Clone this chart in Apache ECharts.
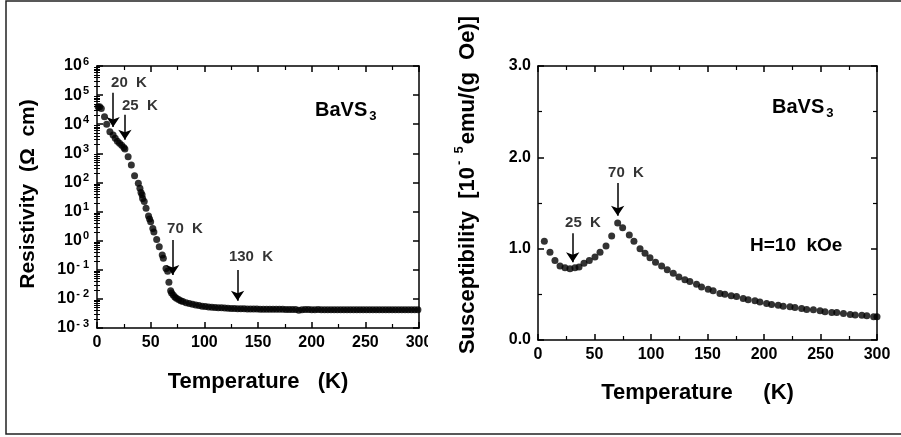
<!DOCTYPE html>
<html>
<head>
<meta charset="utf-8">
<script src="https://cdn.jsdelivr.net/npm/echarts@6/dist/echarts.min.js"></script>
<style>
    html, body { margin: 0; padding: 0; background: #fff; }
    #chart { width: 901px; height: 437px; }
</style>
</head>
<body>
<div id="chart"></div>
<script>
    // resistivity panel (left)
    var resT = [1, 2.5, 4, 7, 9, 12, 15, 17, 19, 21,
        23, 25, 26, 29, 32, 35, 38.5, 40, 41, 42,
        42.5, 44, 45.7, 48, 49, 50, 52, 53, 55.6, 58,
        60.8, 61.8, 64.3, 65.8, 67, 68.6, 69.5, 71, 72.5, 74,
        76, 78, 80, 83, 86, 89, 92, 95, 98, 101,
        104, 107, 110, 113, 116, 119, 122, 125, 128, 131,
        134, 137, 140, 143, 146, 149, 152, 155, 158, 161,
        164, 167, 170, 173, 176, 179, 182, 185, 188, 191,
        194, 197, 200, 203, 206, 209, 212, 215, 218, 221,
        224, 227, 230, 233, 236, 239, 242, 245, 248, 251,
        254, 257, 260, 263, 266, 269, 272, 275, 278, 281,
        284, 287, 290, 293, 296, 299];
    var resRho = [4.0e4, 4.0e4, 3.5e4, 1.8e4, 1.0e4, 5.5e3, 4.3e3, 3.3e3, 2.6e3, 2.2e3,
        1.9e3, 1.6e3, 1.4e3, 760, 400, 170, 93, 63, 45, 38,
        28, 22, 13, 7.1, 5.6, 4.5, 2.6, 2.0, 1.1, 0.62,
        0.32, 0.25, 0.11, 0.089, 0.037, 0.019, 0.016, 0.0135, 0.0117, 0.0105,
        0.0095, 0.0087, 0.0081, 0.0074, 0.0069, 0.0065, 0.0062, 0.0059, 0.0056, 0.0055,
        0.0053, 0.0052, 0.0051, 0.0050, 0.0050, 0.0049, 0.0048, 0.0047, 0.0047, 0.0046,
        0.0046, 0.0046, 0.0045, 0.0045, 0.0045, 0.0045, 0.0044, 0.0044, 0.0044, 0.0044,
        0.0044, 0.0044, 0.0044, 0.0044, 0.0043, 0.0043, 0.0043, 0.0043, 0.0041, 0.0042,
        0.0043, 0.0043, 0.0042, 0.0042, 0.0043, 0.0042, 0.0042, 0.0042, 0.0042, 0.0042,
        0.0042, 0.0042, 0.0042, 0.0042, 0.0042, 0.0042, 0.0042, 0.0042, 0.0042, 0.0042,
        0.0042, 0.0042, 0.0042, 0.0042, 0.0042, 0.0042, 0.0042, 0.0042, 0.0042, 0.0042,
        0.0042, 0.0042, 0.0042, 0.0042, 0.0042, 0.0042];

    // susceptibility panel (right), units of 1e-5 emu/(g Oe)
    var chiT = [5.6, 10.6, 15, 19.5, 23.9, 28.3, 32.7, 36.3, 40.7, 45.4,
        50.4, 54.9, 60.2, 65.2, 70.5, 74.9, 80.8, 84.9, 90.3, 94.7,
        99.1, 104, 109.4, 114.4, 119.7, 124.7, 130, 134.4, 140.3, 144.7,
        150.6, 155, 161, 165.4, 171, 175.7, 181.6, 186, 192, 196.4,
        202.3, 206.7, 212.6, 217, 223, 227.4, 233.3, 237.8, 243.7, 249.6,
        254, 260, 264.4, 270.3, 276.3, 280.7, 286.6, 291, 297, 300];
    var chi = [1.08, 0.96, 0.87, 0.81, 0.79, 0.78, 0.79, 0.80, 0.84, 0.87,
        0.91, 0.96, 1.03, 1.14, 1.28, 1.23, 1.15, 1.08, 1.00, 0.95,
        0.90, 0.85, 0.81, 0.77, 0.73, 0.69, 0.66, 0.64, 0.61, 0.58,
        0.555, 0.54, 0.51, 0.50, 0.485, 0.475, 0.455, 0.44, 0.43, 0.415,
        0.40, 0.39, 0.38, 0.37, 0.365, 0.355, 0.345, 0.335, 0.33, 0.32,
        0.31, 0.30, 0.30, 0.29, 0.28, 0.275, 0.27, 0.265, 0.255, 0.255];

    var tempTicks = [0, 50, 100, 150, 200, 250, 300];
    var resExps = [-3, -2, -1, 0, 1, 2, 3, 4, 5, 6];
    var chiTicks = ['0.0', '1.0', '2.0', '3.0'];

    // annotations: [T, value, text] and arrows: [T, from, to]
    var resNotes = [[29.8, 2.6e5, '20  K'], [40, 4.3e4, '25  K'], [82, 2.5, '70  K'], [143.5, 0.275, '130  K']];
    var resArrows = [[15, 1.2e5, 8e3], [26, 2.1e4, 2.9e3], [70.5, 1.05, 0.066], [131, 0.098, 0.0087]];
    var chiNotes = [[77.9, 1.83, '70  K'], [39.8, 1.28, '25  K']];
    var chiArrows = [[70.5, 1.72, 1.36], [30.7, 1.17, 0.85]];

    var FONT = 'Liberation Sans';
    var lineStyle = { color: '#000', width: 1.5 };

    var resData = resT.map(function (t, i) { return [t, resRho[i]]; });
    var chiData = chiT.map(function (t, i) { return [t, chi[i]]; });

    // minor log ticks 2..9 per decade, in log10 space
    var minorLog = [];
    for (var e = -3; e < 6; e++) {
        for (var m = 2; m <= 9; m++) minorLog.push(e + Math.log10(m));
    }

    function tempAxis(grid, pos, name, gap, pad) {
        return {
            type: 'value', gridIndex: grid, position: pos, min: 0, max: 300, interval: 50,
            name: name, nameLocation: 'middle', nameGap: gap,
            nameTextStyle: { fontFamily: FONT, fontWeight: 'bold', fontSize: 22, color: '#000', padding: pad || 0 },
            axisLine: { show: true, onZero: false, lineStyle: lineStyle },
            axisTick: { show: true, inside: true, length: 6, lineStyle: lineStyle },
            minorTick: { show: true, splitNumber: 2, length: 4, lineStyle: { color: '#000', width: 1.2 } },
            splitLine: { show: false },
            axisLabel: {
                show: pos === 'bottom', margin: 7, color: '#000',
                fontFamily: FONT, fontWeight: 'bold', fontSize: 16,
                customValues: tempTicks
            }
        };
    }

    function arrowLines(list) {
        return list.map(function (a) {
            return [{ coord: [a[0], a[1]] }, { coord: [a[0], a[2]] }];
        });
    }

    function noteSeries(xi, yi, list) {
        return {
            type: 'scatter', xAxisIndex: xi, yAxisIndex: yi, silent: true,
            symbolSize: 0, data: list,
            label: {
                show: true, position: [0, 0], align: 'center', verticalAlign: 'middle',
                color: '#000', fontFamily: FONT, fontWeight: 'bold', fontSize: 15,
                formatter: function (p) { return p.data[2]; }
            }
        };
    }

    var arrowMark = {
        silent: true, symbol: ['none', 'arrow'], symbolSize: 10,
        label: { show: false },
        itemStyle: { color: '#000' },
        lineStyle: { color: '#000', width: 1.5, type: 'solid' },
        emphasis: { disabled: true }
    };

    var option = {
        animation: false,
        backgroundColor: '#fff',
        grid: [
            { left: 97, top: 66, width: 322, height: 262 },
            { left: 538, top: 66, width: 339, height: 274 }
        ],
        xAxis: [
            tempAxis(0, 'bottom', 'Temperature   (K)', 43),
            tempAxis(0, 'top', '', 0),
            tempAxis(1, 'bottom', 'Temperature     (K)', 42, [0, 20, 0, 0]),
            tempAxis(1, 'top', '', 0)
        ],
        yAxis: [
            {
                type: 'log', gridIndex: 0, position: 'left', min: 0.001, max: 1e6, logBase: 10, splitNumber: 9,
                name: 'Resistivity  (\u03A9  cm)', nameLocation: 'middle', nameGap: 58,
                nameTextStyle: { fontFamily: FONT, fontWeight: 'bold', fontSize: 21, color: '#000', padding: [0, 0, 0, 6] },
                axisLine: { show: true, onZero: false, lineStyle: lineStyle },
                axisTick: { show: true, inside: true, length: 6, lineStyle: lineStyle },
                splitLine: { show: false },
                axisLabel: {
                    margin: 8, color: '#000', fontFamily: FONT, fontWeight: 'bold', fontSize: 16,
                    formatter: function (v) {
                        var e = Math.round(Math.log10(v));
                        return '10{s|' + (e < 0 ? '- ' + (-e) : e) + '}';
                    },
                    rich: {
                        s: { fontFamily: FONT, fontWeight: 'bold', fontSize: 11, color: '#000', padding: [0, 0, 9, 1] }
                    }
                }
            },
            {
                type: 'log', gridIndex: 0, position: 'right', min: 0.001, max: 1e6, logBase: 10, splitNumber: 9,
                axisLine: { show: true, onZero: false, lineStyle: lineStyle },
                axisTick: { show: true, inside: true, length: 6, lineStyle: lineStyle },
                splitLine: { show: false },
                axisLabel: { show: false }
            },
            {
                type: 'value', gridIndex: 0, position: 'left', min: -3, max: 6,
                axisLine: { show: false },
                axisTick: { show: true, inside: true, length: 3, customValues: minorLog, lineStyle: { color: '#000', width: 1 } },
                splitLine: { show: false },
                axisLabel: { show: false }
            },
            {
                type: 'value', gridIndex: 0, position: 'right', min: -3, max: 6,
                axisLine: { show: false },
                axisTick: { show: true, inside: true, length: 3, customValues: minorLog, lineStyle: { color: '#000', width: 1 } },
                splitLine: { show: false },
                axisLabel: { show: false }
            },
            {
                type: 'value', gridIndex: 1, position: 'left', min: 0, max: 3, interval: 1,
                name: 'Susceptibility  [10{s|-  5}emu/(g  Oe)]', nameLocation: 'middle', nameGap: 56,
                nameTextStyle: {
                    fontFamily: FONT, fontWeight: 'bold', fontSize: 22, color: '#000', padding: [0, 0, 0, 36],
                    rich: { s: { fontFamily: FONT, fontWeight: 'bold', fontSize: 13, color: '#000', padding: [0, 2, 16, 2] } }
                },
                axisLine: { show: true, onZero: false, lineStyle: lineStyle },
                axisTick: { show: true, inside: true, length: 6, lineStyle: lineStyle },
                minorTick: { show: true, splitNumber: 2, length: 4, lineStyle: { color: '#000', width: 1.2 } },
                splitLine: { show: false },
                axisLabel: {
                    margin: 7, color: '#000', fontFamily: FONT, fontWeight: 'bold', fontSize: 16,
                    formatter: function (v) { return chiTicks[Math.round(v)]; }
                }
            },
            {
                type: 'value', gridIndex: 1, position: 'right', min: 0, max: 3, interval: 1,
                axisLine: { show: true, onZero: false, lineStyle: lineStyle },
                axisTick: { show: true, inside: true, length: 6, lineStyle: lineStyle },
                minorTick: { show: true, splitNumber: 2, length: 4, lineStyle: { color: '#000', width: 1.2 } },
                splitLine: { show: false },
                axisLabel: { show: false }
            }
        ],
        series: [
            {
                type: 'scatter', xAxisIndex: 0, yAxisIndex: 0, data: resData,
                symbol: 'circle', symbolSize: 7, itemStyle: { color: '#000' },
                markLine: Object.assign({ data: arrowLines(resArrows) }, arrowMark)
            },
            noteSeries(0, 0, resNotes),
            {
                type: 'scatter', xAxisIndex: 2, yAxisIndex: 4, data: chiData,
                symbol: 'circle', symbolSize: 7, itemStyle: { color: '#000' },
                markLine: Object.assign({ data: arrowLines(chiArrows) }, arrowMark)
            },
            noteSeries(2, 4, chiNotes)
        ],
        graphic: [
            {
                type: 'rect', silent: true, z: 100,
                shape: { x: 428, y: 332, width: 22, height: 22 },
                style: { fill: '#fff' }
            },
            {
                type: 'rect', silent: true, z: 100,
                shape: { x: 6, y: 1, width: 900, height: 433 },
                style: { fill: 'none', stroke: '#222', lineWidth: 1.5 }
            },
            {
                type: 'text', left: 315, top: 100, z: 50,
                style: {
                    text: '{a|BaVS}{b|3}',
                    rich: {
                        a: { fontFamily: FONT, fontWeight: 'bold', fontSize: 20, fill: '#000' },
                        b: { fontFamily: FONT, fontWeight: 'bold', fontSize: 13, fill: '#000', padding: [12, 0, 0, 2] }
                    }
                }
            },
            {
                type: 'text', left: 772, top: 97, z: 50,
                style: {
                    text: '{a|BaVS}{b|3}',
                    rich: {
                        a: { fontFamily: FONT, fontWeight: 'bold', fontSize: 20, fill: '#000' },
                        b: { fontFamily: FONT, fontWeight: 'bold', fontSize: 13, fill: '#000', padding: [12, 0, 0, 2] }
                    }
                }
            },
            {
                type: 'text', left: 750, top: 236, z: 50,
                style: { text: 'H=10  kOe', fontFamily: FONT, fontWeight: 'bold', fontSize: 19, fill: '#000' }
            }
        ]
    };

    var chart = echarts.init(document.getElementById('chart'));
    chart.setOption(option);
</script>
</body>
</html>
